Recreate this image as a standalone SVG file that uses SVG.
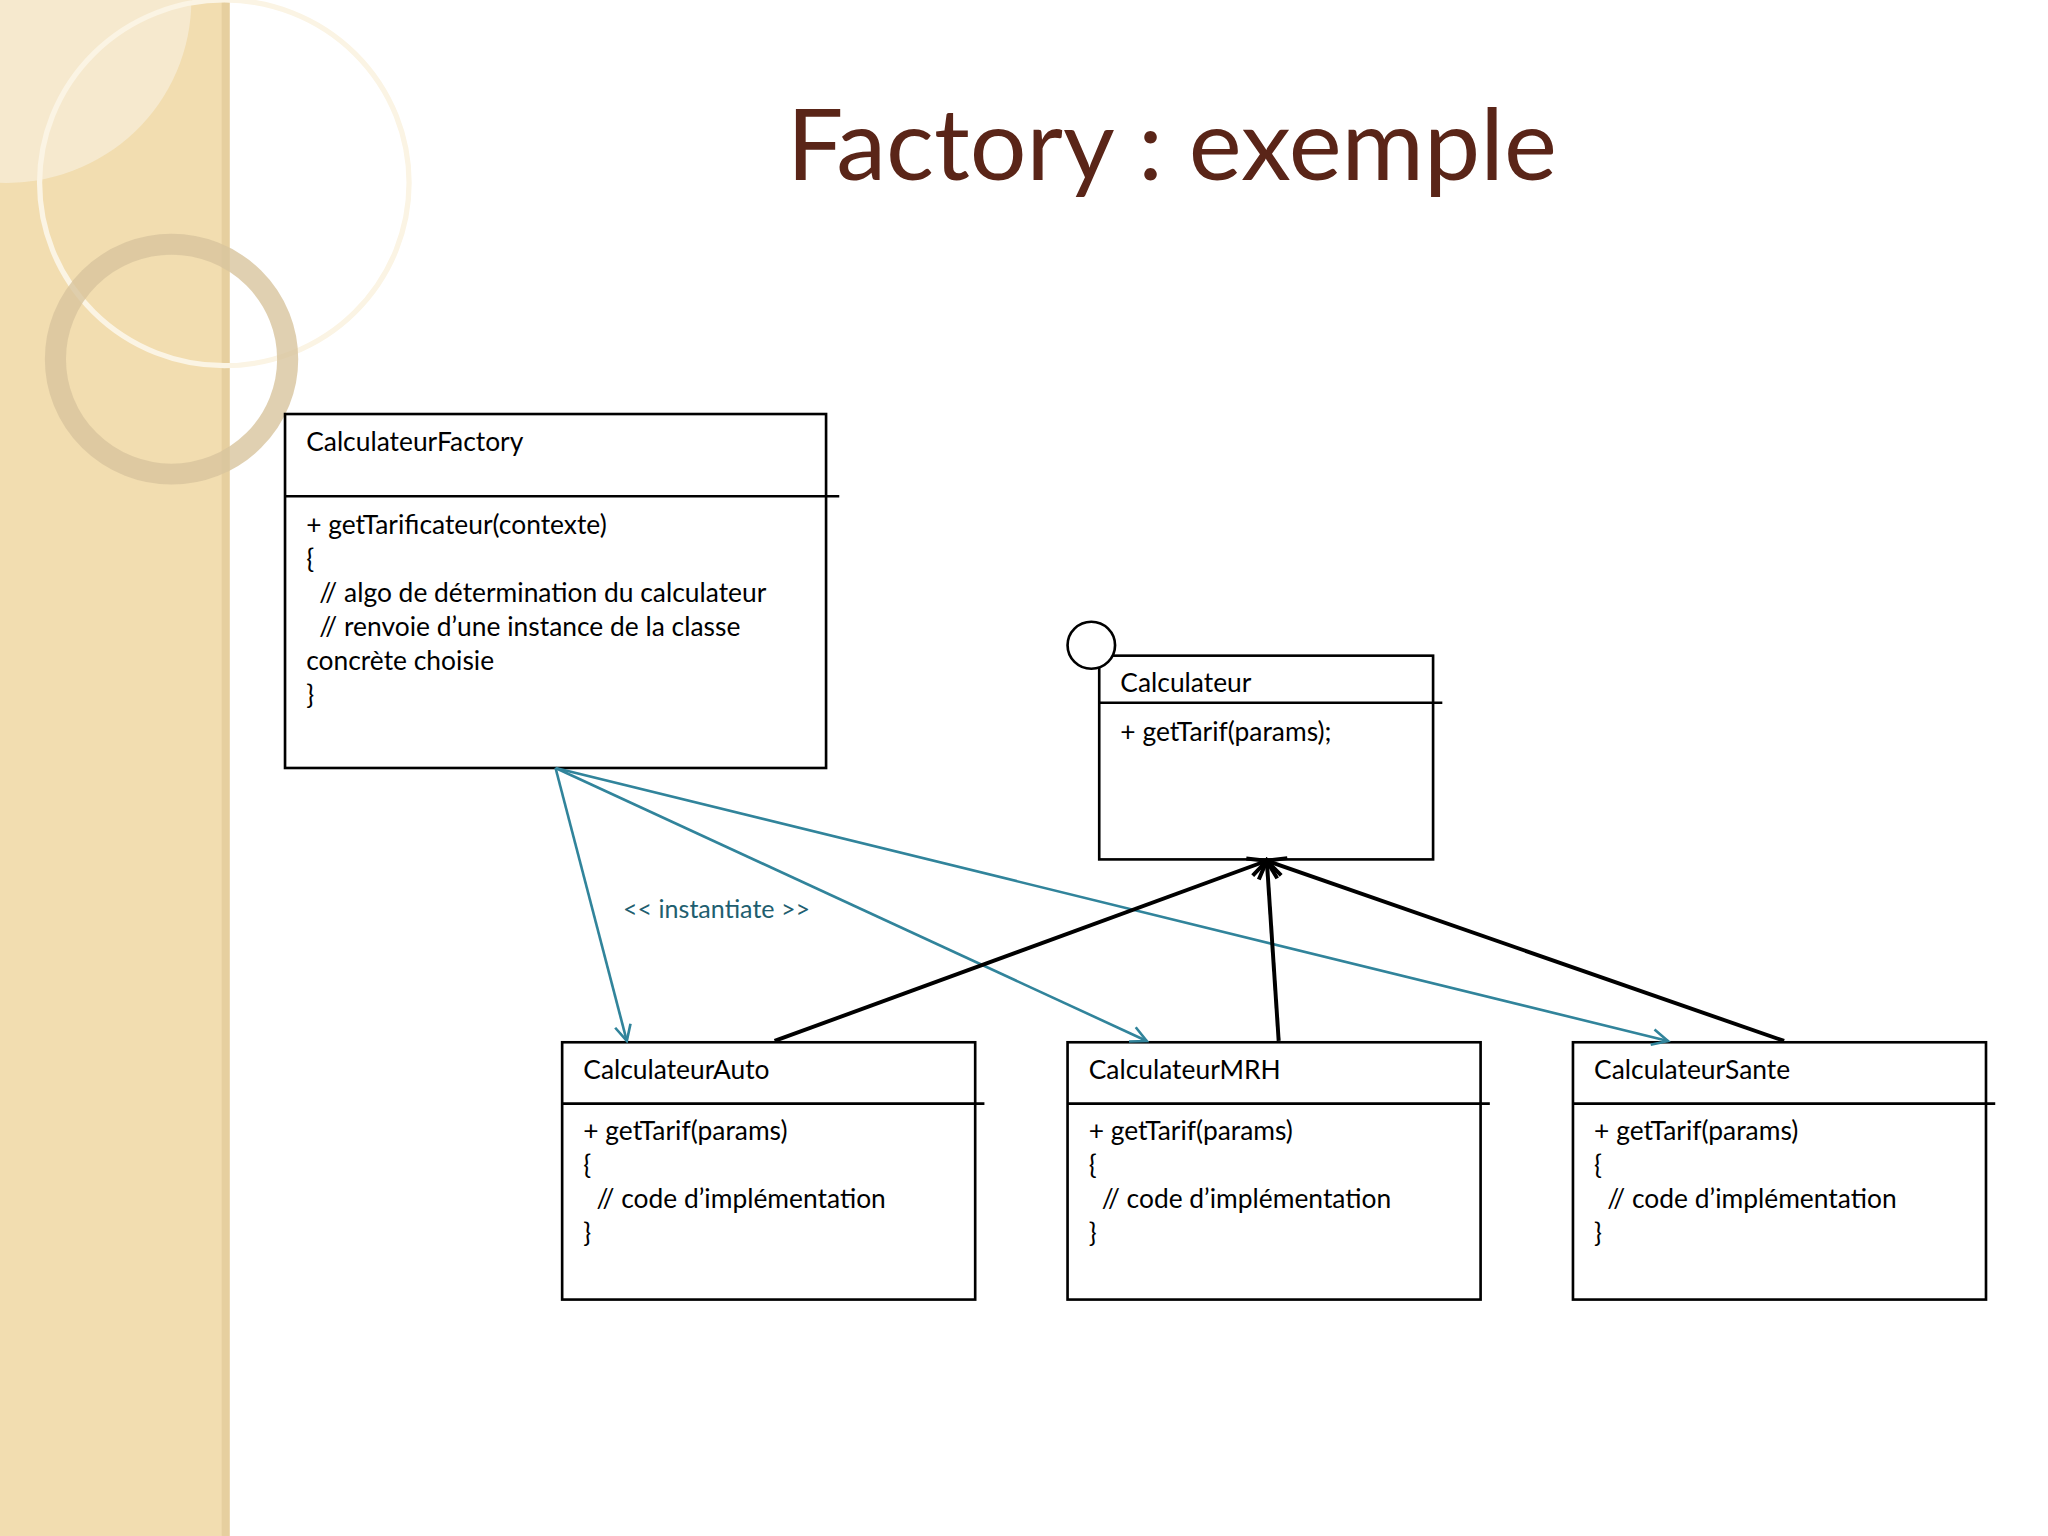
<svg xmlns="http://www.w3.org/2000/svg" width="2048" height="1536" viewBox="0 0 2048 1536">
<defs>
<style>
.box{fill:#fff;stroke:#000;stroke-width:2}
.ln{stroke:#000;stroke-width:2}
.t{font-family:Lato,"Open Sans",sans-serif;font-size:20px;fill:#000}
.inst{stroke:#31849b;stroke-width:2;fill:none}
.gen{stroke:#000;stroke-width:3;fill:none}
</style>
<marker id="oa" markerWidth="16" markerHeight="16" refX="14" refY="8" orient="auto" markerUnits="userSpaceOnUse"><path d="M2,2 L14,8 L2,14" fill="none" stroke="#31849b" stroke-width="2"/></marker>
<marker id="ga" markerWidth="20" markerHeight="20" refX="17" refY="10" orient="auto" markerUnits="userSpaceOnUse"><path d="M3,3 L17,10 L3,17" fill="none" stroke="#000" stroke-width="3"/></marker>
</defs>
<rect width="2048" height="1536" fill="#fff"/>
<g transform="scale(1.3196,1.3061)">
<g id="sidebar">
<rect x="0" y="0" width="174" height="1176" fill="#f2ddb0"/>
<rect x="168" y="0" width="6" height="1176" fill="#e6cf9f"/>
<path d="M0,0 H145 A140,140 0 0 1 0,140 Z" fill="#f6ecd6" opacity="0.8"/>
<circle cx="170" cy="140" r="140" fill="none" stroke="#fbf4e4" stroke-width="4"/>
<circle cx="130" cy="275" r="88" fill="none" stroke="#d8c49e" stroke-width="16" opacity="0.8"/>
</g>
<text x="888" y="138" text-anchor="middle" font-family="Lato,'Open Sans',sans-serif" font-size="76" fill="#5a2518">Factory : exemple</text>
<g id="CalculateurFactory">
<rect class="box" x="216" y="317" width="410" height="271"/>
<line class="ln" x1="216" y1="380" x2="636" y2="380"/>
<text class="t" x="232" y="345">CalculateurFactory</text>
<text class="t" x="232" y="409">+ getTarificateur(contexte)</text>
<text class="t" x="232" y="435">{</text>
<text class="t" x="242" y="461">// algo de détermination du calculateur</text>
<text class="t" x="242" y="487">// renvoie d’une instance de la classe</text>
<text class="t" x="232" y="513">concrète choisie</text>
<text class="t" x="232" y="539">}</text>
</g>
<g id="Calculateur">
<rect class="box" x="833" y="502" width="253" height="156"/>
<line class="ln" x1="833" y1="538" x2="1093" y2="538"/>
<circle cx="827" cy="494" r="18" fill="#fff" stroke="#000" stroke-width="2"/>
<text class="t" x="849" y="530">Calculateur</text>
<text class="t" x="849" y="567">+ getTarif(params);</text>
</g>
<g id="CalculateurAuto">
<rect class="box" x="426" y="798" width="313" height="197"/>
<line class="ln" x1="426" y1="845" x2="746" y2="845"/>
<text class="t" x="442" y="826">CalculateurAuto</text>
<text class="t" x="442" y="873">+ getTarif(params)</text>
<text class="t" x="442" y="899">{</text>
<text class="t" x="452" y="925">// code d’implémentation</text>
<text class="t" x="442" y="951">}</text>
</g>
<g id="CalculateurMRH">
<rect class="box" x="809" y="798" width="313" height="197"/>
<line class="ln" x1="809" y1="845" x2="1129" y2="845"/>
<text class="t" x="825" y="826">CalculateurMRH</text>
<text class="t" x="825" y="873">+ getTarif(params)</text>
<text class="t" x="825" y="899">{</text>
<text class="t" x="835" y="925">// code d’implémentation</text>
<text class="t" x="825" y="951">}</text>
</g>
<g id="CalculateurSante">
<rect class="box" x="1192" y="798" width="313" height="197"/>
<line class="ln" x1="1192" y1="845" x2="1512" y2="845"/>
<text class="t" x="1208" y="826">CalculateurSante</text>
<text class="t" x="1208" y="873">+ getTarif(params)</text>
<text class="t" x="1208" y="899">{</text>
<text class="t" x="1218" y="925">// code d’implémentation</text>
<text class="t" x="1208" y="951">}</text>
</g>
<g id="connectors">
<line class="inst" x1="421" y1="588" x2="475" y2="797" marker-end="url(#oa)"/>
<line class="inst" x1="421" y1="588" x2="869" y2="797" marker-end="url(#oa)"/>
<line class="inst" x1="421" y1="588" x2="1264" y2="797" marker-end="url(#oa)"/>
<text x="543" y="703" text-anchor="middle" font-family="Lato,'Open Sans',sans-serif" font-size="19" fill="#215e6f">&lt;&lt; instantiate &gt;&gt;</text>
<line class="gen" x1="587" y1="797" x2="960" y2="659" marker-end="url(#ga)"/>
<line class="gen" x1="969" y1="797" x2="960" y2="659" marker-end="url(#ga)"/>
<line class="gen" x1="1352" y1="797" x2="960" y2="659" marker-end="url(#ga)"/>
</g>
</g>
</svg>
